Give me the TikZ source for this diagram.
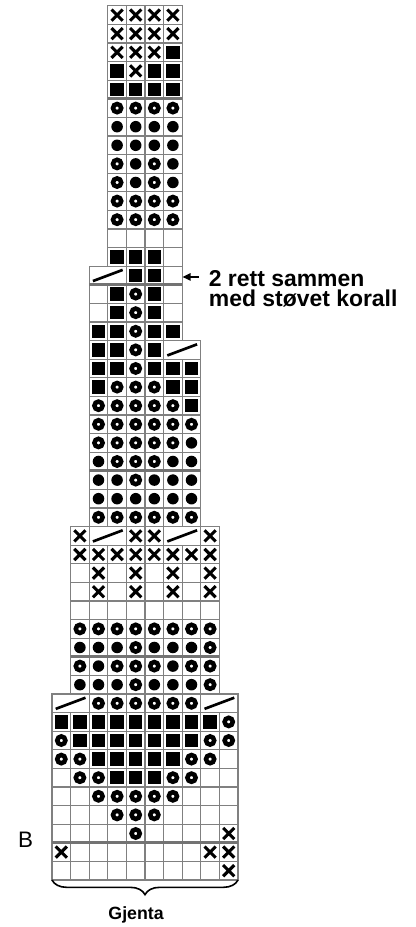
\documentclass[tikz,border=0pt]{standalone}
\usepackage{fontspec}
\setmainfont{Liberation Sans}
\usetikzlibrary{decorations.pathreplacing,arrows.meta}
\tikzset{
  gridline/.style={draw=black!50, line width=0.8pt},
  thickline/.style={draw=black!55, line width=2pt},
  xmark/.style={draw=black, line width=2.3pt},
  slashmark/.style={draw=black, line width=2pt},
  ringmark/.style={draw=black, line width=3.4pt},
  lbl/.style={font=\bfseries\fontsize{17.2}{15.75}\selectfont, inner sep=0pt, anchor=base west},
  bracestyle/.style={decorate, decoration={brace, mirror, amplitude=11pt}, line width=1.2pt},
}
\def\kwE{1}\def\kwX{1}\def\kwS{1}\def\kwD{1}\def\kwO{1}\def\kwL{2}
\newcommand\kpE[2]{\draw[gridline] (#1,#2) rectangle ++(1,1);}
\newcommand\kpX[2]{\kpE{#1}{#2}\draw[xmark] (#1+0.2,#2+0.2) -- (#1+0.8,#2+0.8) (#1+0.2,#2+0.8) -- (#1+0.8,#2+0.2);}
\newcommand\kpS[2]{\kpE{#1}{#2}\fill[black] (#1+0.14,#2+0.14) rectangle (#1+0.86,#2+0.86);}
\newcommand\kpD[2]{\kpE{#1}{#2}\fill[black] (#1+0.5,#2+0.5) circle[radius=0.31];}
\newcommand\kpO[2]{\kpE{#1}{#2}\draw[ringmark] (#1+0.5,#2+0.5) circle[radius=0.22];}
\newcommand\kpL[2]{\draw[gridline] (#1,#2) rectangle ++(2,1);\draw[slashmark] (#1+0.2,#2+0.2) -- (#1+1.8,#2+0.8);}
\newcommand\KRow[3]{%
  \xdef\kpos{#2}%
  \foreach \kt in {#3}{%
    \csname kp\kt\endcsname{\kpos}{#1}%
    \pgfmathsetmacro\knext{\kpos+\csname kw\kt\endcsname}%
    \xdef\kpos{\knext}%
  }%
}
\begin{document}
\begin{tikzpicture}[x=13.95pt,y=13.95pt]
\useasboundingbox[fill=white] (-2.7957,-2.5269) rectangle (19.516,47.3118);
% section 1
\KRow{46}{3}{X,X,X,X}
\KRow{45}{3}{X,X,X,X}
\KRow{44}{3}{X,X,X,S}
\KRow{43}{3}{S,X,S,S}
\KRow{42}{3}{S,S,S,S}
\KRow{41}{3}{O,O,O,O}
\KRow{40}{3}{D,D,D,D}
\KRow{39}{3}{D,D,D,D}
\KRow{38}{3}{O,D,O,D}
\KRow{37}{3}{O,D,O,D}
\KRow{36}{3}{O,O,O,O}
\KRow{35}{3}{O,O,O,O}
\KRow{34}{3}{E,E,E,E}
\KRow{33}{3}{S,S,S,E}
% section 2
\KRow{32}{2}{L,S,S,E}
\KRow{31}{2}{E,S,O,S,E}
\KRow{30}{2}{E,S,O,S,E}
\KRow{29}{2}{S,S,O,S,S}
% section 3
\KRow{28}{2}{S,S,O,S,L}
\KRow{27}{2}{S,S,O,S,S,S}
\KRow{26}{2}{S,O,O,O,S,S}
\KRow{25}{2}{O,O,O,O,O,S}
\KRow{24}{2}{O,O,O,O,O,O}
\KRow{23}{2}{O,O,O,O,O,D}
\KRow{22}{2}{D,O,O,O,D,D}
\KRow{21}{2}{D,D,O,D,D,D}
\KRow{20}{2}{D,D,D,D,D,D}
\KRow{19}{2}{O,O,O,O,O,O}
% section 4
\KRow{18}{1}{X,L,X,X,L,X}
\KRow{17}{1}{X,X,X,X,X,X,X,X}
\KRow{16}{1}{E,X,E,X,E,X,E,X}
\KRow{15}{1}{E,X,E,X,E,X,E,X}
\KRow{14}{1}{E,E,E,E,E,E,E,E}
\KRow{13}{1}{O,O,O,O,O,O,O,O}
\KRow{12}{1}{D,D,D,O,D,D,D,O}
\KRow{11}{1}{O,D,O,O,O,D,O,O}
\KRow{10}{1}{D,D,D,O,D,D,D,O}
% section 5
\KRow{9}{0}{L,O,O,O,O,O,O,L}
\KRow{8}{0}{S,S,S,S,S,S,S,S,S,O}
\KRow{7}{0}{O,S,S,S,S,S,S,S,O,O}
\KRow{6}{0}{O,O,S,S,S,S,S,O,O,E}
\KRow{5}{0}{E,O,O,S,S,S,O,O,E,E}
\KRow{4}{0}{E,E,O,O,O,O,O,E,E,E}
\KRow{3}{0}{E,E,E,O,O,O,E,E,E,E}
\KRow{2}{0}{E,E,E,E,O,E,E,E,E,X}
\KRow{1}{0}{X,E,E,E,E,E,E,E,X,X}
\KRow{0}{0}{E,E,E,E,E,E,E,E,E,X}
% thick section lines
\draw[thickline] (3,42) -- (7,42);
\draw[thickline] (2,32) -- (7,32);
\draw[thickline] (2,22) -- (8,22);
\draw[thickline] (1,12) -- (9,12);
\draw[thickline] (0,2) -- (10,2);
% arrow and label
\coordinate (arrTail) at (7.9,32.42);
\coordinate (arrTip) at (7.02,32.42);
\draw[-{Triangle[length=6pt,width=5.5pt]}, line width=1.2pt] (arrTail) -- (arrTip);
\node[lbl] (lineA) at (8.42,31.92) {2 rett sammen};
\node[lbl] (lineB) at (8.42,30.81) {med støvet korall};
% B label
\node[font=\fontsize{16.8}{16.8}\selectfont, inner sep=0pt] (blab) at (-1.42,2.15) {B};
% brace
\coordinate (braceL) at (0,0);
\coordinate (braceR) at (10,0);
\draw[bracestyle] (braceL) -- (braceR);
\node[font=\bfseries\fontsize{13.3}{13.3}\selectfont, inner sep=0pt, anchor=base] (gj) at (4.52,-2.15) {Gjenta};
\end{tikzpicture}
\end{document}
